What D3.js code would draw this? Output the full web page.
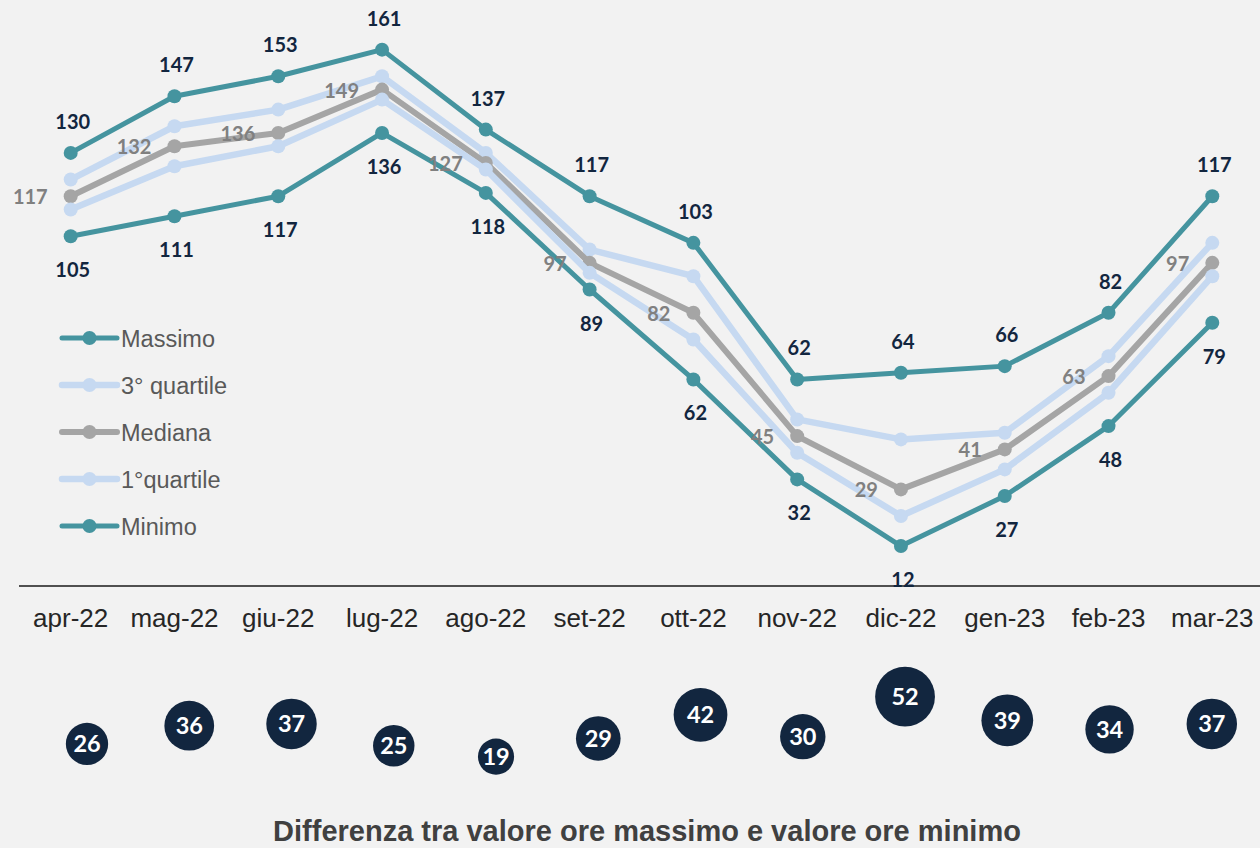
<!DOCTYPE html>
<html>
<head>
<meta charset="utf-8">
<script src="https://cdn.jsdelivr.net/npm/d3@7"></script>
<style>
  body { margin: 0; background: #f2f2f2; }
  svg { display: block; }
</style>
</head>
<body>
<div id="chart"></div>
<script>
const months = ['apr-22', 'mag-22', 'giu-22', 'lug-22', 'ago-22', 'set-22', 'ott-22', 'nov-22', 'dic-22', 'gen-23', 'feb-23', 'mar-23']

const massimo = [130, 147, 153, 161, 137, 117, 103, 62, 64, 66, 82, 117]
const terzoQuartile = [122, 138, 143, 153, 130, 101, 93, 50, 44, 46, 69, 103]
const mediana = [117, 132, 136, 149, 127, 97, 82, 45, 29, 41, 63, 97]
const primoQuartile = [113, 126, 132, 146, 125, 94, 74, 40, 21, 35, 58, 93]
const minimo = [105, 111, 117, 136, 118, 89, 62, 32, 12, 27, 48, 79]

const differenza = [26, 36, 37, 25, 19, 29, 42, 30, 52, 39, 34, 37]

const seriesNames = ['Massimo', '3° quartile', 'Mediana', '1°quartile', 'Minimo']

const width = 1260
const height = 848

const teal = '#45949f'
const lightBlue = '#c6d9f1'
const grey = '#a5a5a5'
const navy = '#12263f'

const series = [
  { name: seriesNames[0], values: massimo, color: teal, width: 5, label: 'above' },
  { name: seriesNames[1], values: terzoQuartile, color: lightBlue, width: 6.5 },
  { name: seriesNames[2], values: mediana, color: grey, width: 6, label: 'left' },
  { name: seriesNames[3], values: primoQuartile, color: lightBlue, width: 6.5 },
  { name: seriesNames[4], values: minimo, color: teal, width: 5, label: 'below' }
]

const svg = d3
  .select('#chart')
  .append('svg')
  .attr('width', width)
  .attr('height', height)

svg
  .append('rect')
  .attr('width', width)
  .attr('height', height)
  .attr('fill', '#f2f2f2')

const x = d3.scalePoint().domain(months).range([70.7, 1212.3])
const y = d3.scaleLinear().domain([0, 175]).range([586, 3])

// axis line + month labels
svg
  .append('line')
  .attr('x1', 19)
  .attr('x2', width)
  .attr('y1', y(0))
  .attr('y2', y(0))
  .attr('stroke', '#1a1a1a')
  .attr('stroke-width', 1.5)

svg
  .selectAll('.month')
  .data(months)
  .enter()
  .append('text')
  .attr('class', 'month')
  .attr('x', d => x(d))
  .attr('y', 627)
  .attr('text-anchor', 'middle')
  .attr('font-family', 'Liberation Sans, Arial, sans-serif')
  .attr('font-size', 26)
  .attr('fill', '#262626')
  .text(d => d)

const line = d3
  .line()
  .x((d, i) => x(months[i]))
  .y(d => y(d))

series.forEach(s => {
  const g = svg.append('g')

  g.append('path')
    .datum(s.values)
    .attr('d', line)
    .attr('fill', 'none')
    .attr('stroke', s.color)
    .attr('stroke-width', s.width)
    .attr('stroke-linejoin', 'round')

  g.selectAll('circle')
    .data(s.values)
    .enter()
    .append('circle')
    .attr('cx', (d, i) => x(months[i]))
    .attr('cy', d => y(d))
    .attr('r', 7)
    .attr('fill', s.color)
})

// data labels
series
  .filter(s => s.label)
  .forEach(s => {
    svg
      .append('g')
      .selectAll('text')
      .data(s.values)
      .enter()
      .append('text')
      .attr('x', (d, i) => (s.label === 'left' ? x(months[i]) - 23 : x(months[i]) + 2))
      .attr('y', d => {
        if (s.label === 'above') return y(d) - 24
        if (s.label === 'below') return y(d) + 41
        return y(d) + 8
      })
      .attr('text-anchor', s.label === 'left' ? 'end' : 'middle')
      .attr('font-family', 'Lato, Open Sans, sans-serif')
      .attr('font-weight', 'bold')
      .attr('font-size', 20)
      .attr('fill', s.label === 'left' ? '#808080' : navy)
      .text(d => d)
  })

// legend
const legend = svg
  .append('g')
  .selectAll('g')
  .data(series)
  .enter()
  .append('g')
  .attr('transform', (d, i) => `translate(0,${338 + i * 47})`)

legend
  .append('line')
  .attr('x1', 62)
  .attr('x2', 117)
  .attr('stroke', d => d.color)
  .attr('stroke-width', d => d.width)
  .attr('stroke-linecap', 'round')

legend
  .append('circle')
  .attr('cx', 89.5)
  .attr('r', 7)
  .attr('fill', d => d.color)

legend
  .append('text')
  .attr('x', 121)
  .attr('y', 8.5)
  .attr('font-family', 'Liberation Sans, Arial, sans-serif')
  .attr('font-size', 23.5)
  .attr('fill', '#595959')
  .text(d => d.name)

// bubbles: difference max - min
const bx = d3.scalePoint().domain(months).range([87, 1211.8])
const by = d3.scaleLinear().domain([0, 60]).range([791.2, 682.1])
const br = d3.scaleSqrt().domain([0, 52]).range([0, 29.9])

const bubbles = svg
  .append('g')
  .selectAll('g')
  .data(differenza)
  .enter()
  .append('g')
  .attr('transform', (d, i) => `translate(${bx(months[i])},${by(d)})`)

bubbles
  .append('circle')
  .attr('r', d => br(d))
  .attr('fill', navy)

bubbles
  .append('text')
  .attr('y', 8.5)
  .attr('text-anchor', 'middle')
  .attr('font-family', 'Lato, Open Sans, sans-serif')
  .attr('font-weight', 'bold')
  .attr('font-size', 23.5)
  .attr('fill', '#fff')
  .text(d => d)

svg
  .append('text')
  .attr('x', 647)
  .attr('y', 841)
  .attr('text-anchor', 'middle')
  .attr('font-family', 'Liberation Sans, Arial, sans-serif')
  .attr('font-weight', 'bold')
  .attr('font-size', 29)
  .attr('fill', '#404040')
  .text('Differenza tra valore ore massimo e valore ore minimo')
</script>
</body>
</html>
